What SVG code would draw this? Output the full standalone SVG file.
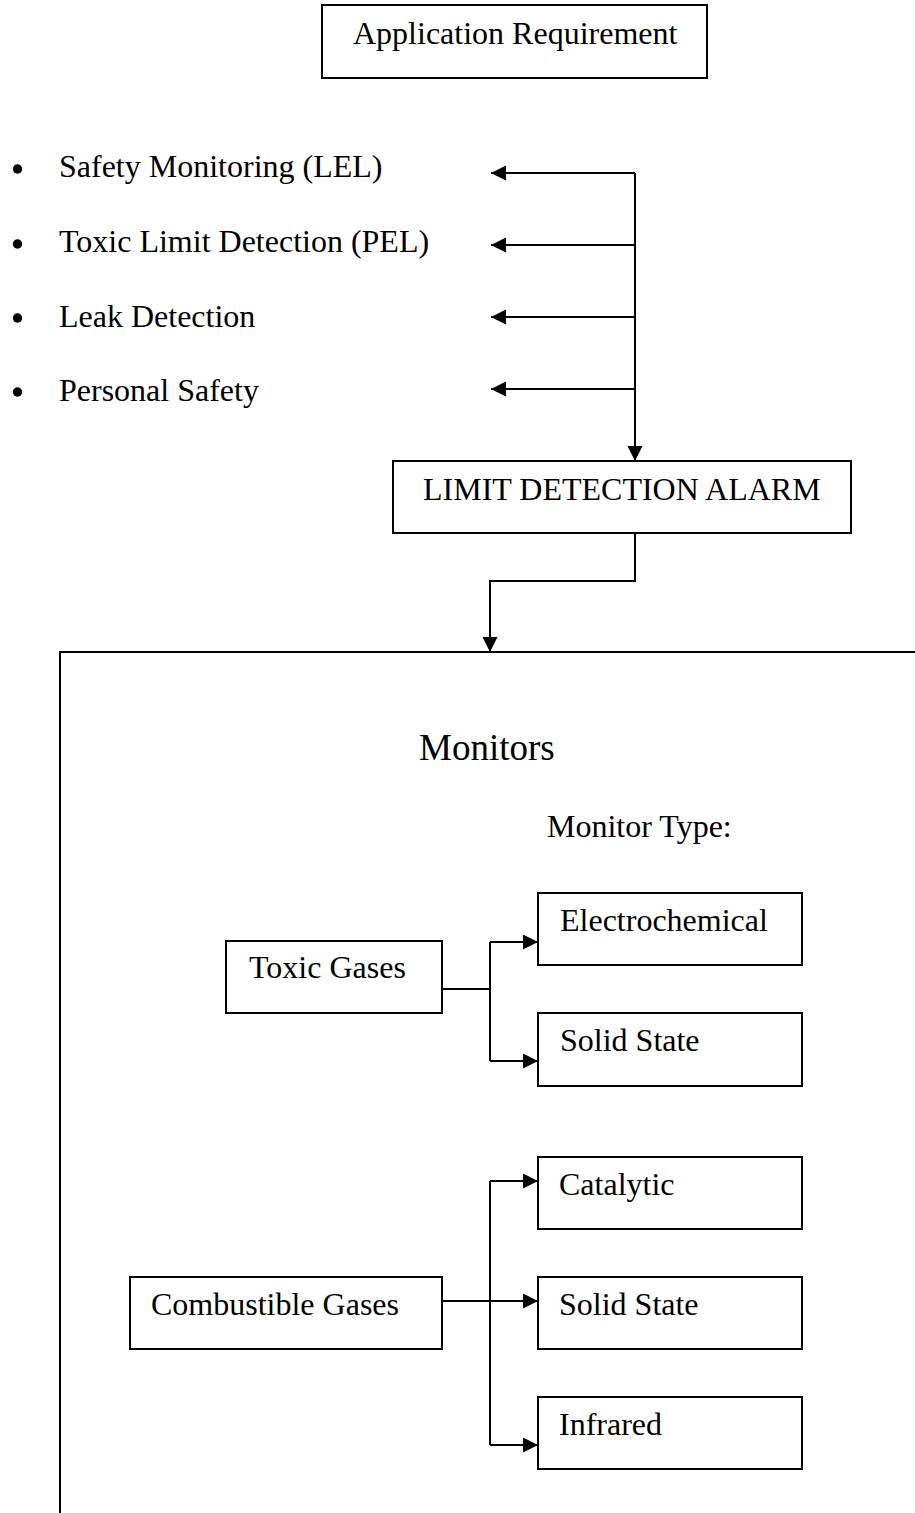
<svg xmlns="http://www.w3.org/2000/svg" width="915" height="1513" viewBox="0 0 915 1513">
<style>
.box{fill:#fff;stroke:#000;stroke-width:2}
.t{font-family:"Liberation Serif","Times New Roman",serif;font-size:32px;fill:#000}
.big{font-size:37px}
.c{fill:none;stroke:#000;stroke-width:2}
</style>
<defs>
<marker id="ah" markerUnits="userSpaceOnUse" markerWidth="16" markerHeight="16" refX="15" refY="7.5" orient="auto">
<path d="M0,0 L15,7.5 L0,15 z" fill="#000"/>
</marker>
</defs>
<rect width="915" height="1513" fill="#fff"/>

<g id="monitors">
<path class="c" d="M915,652 H60 V1520"/>
<text class="t big" x="419" y="760">Monitors</text>
<text class="t" x="547" y="837">Monitor Type:</text>
</g>

<g id="app-req">
<rect class="box" x="322" y="5" width="385" height="73"/>
<text class="t" x="353" y="44">Application Requirement</text>
</g>

<g id="bullets">
<circle cx="17.5" cy="169" r="4.7" fill="#000"/>
<text class="t" x="59" y="177">Safety Monitoring (LEL)</text>
<circle cx="17.5" cy="244" r="4.7" fill="#000"/>
<text class="t" x="59" y="252">Toxic Limit Detection (PEL)</text>
<circle cx="17.5" cy="318" r="4.7" fill="#000"/>
<text class="t" x="59" y="327">Leak Detection</text>
<circle cx="17.5" cy="392" r="4.7" fill="#000"/>
<text class="t" x="59" y="401">Personal Safety</text>
</g>

<g id="limit-alarm">
<rect class="box" x="393" y="461" width="458" height="72"/>
<text class="t" x="423" y="500">LIMIT DETECTION ALARM</text>
</g>

<g id="toxic-gases">
<rect class="box" x="226" y="941" width="216" height="72"/>
<text class="t" x="249" y="978">Toxic Gases</text>
</g>
<g id="electrochemical">
<rect class="box" x="538" y="893" width="264" height="72"/>
<text class="t" x="560" y="931">Electrochemical</text>
</g>
<g id="solid-state-1">
<rect class="box" x="538" y="1013" width="264" height="73"/>
<text class="t" x="560" y="1051">Solid State</text>
</g>

<g id="combustible-gases">
<rect class="box" x="130" y="1277" width="312" height="72"/>
<text class="t" x="151" y="1315">Combustible Gases</text>
</g>
<g id="catalytic">
<rect class="box" x="538" y="1157" width="264" height="72"/>
<text class="t" x="559" y="1195">Catalytic</text>
</g>
<g id="solid-state-2">
<rect class="box" x="538" y="1277" width="264" height="72"/>
<text class="t" x="559" y="1315">Solid State</text>
</g>
<g id="infrared">
<rect class="box" x="538" y="1397" width="264" height="72"/>
<text class="t" x="559" y="1435">Infrared</text>
</g>

<g id="connectors">
<path class="c" d="M635,173 H491" marker-end="url(#ah)"/>
<path class="c" d="M635,245 H491" marker-end="url(#ah)"/>
<path class="c" d="M635,317 H491" marker-end="url(#ah)"/>
<path class="c" d="M635,389 H491" marker-end="url(#ah)"/>
<path class="c" d="M635,173 V461" marker-end="url(#ah)"/>
<path class="c" d="M635,533 V581 H490 V652" marker-end="url(#ah)"/>
<path class="c" d="M442,989 H490"/>
<path class="c" d="M490,942 V1061"/>
<path class="c" d="M490,942 H538" marker-end="url(#ah)"/>
<path class="c" d="M490,1061 H538" marker-end="url(#ah)"/>
<path class="c" d="M442,1301 H538" marker-end="url(#ah)"/>
<path class="c" d="M490,1181 V1445"/>
<path class="c" d="M490,1181 H538" marker-end="url(#ah)"/>
<path class="c" d="M490,1445 H538" marker-end="url(#ah)"/>
</g>
</svg>
